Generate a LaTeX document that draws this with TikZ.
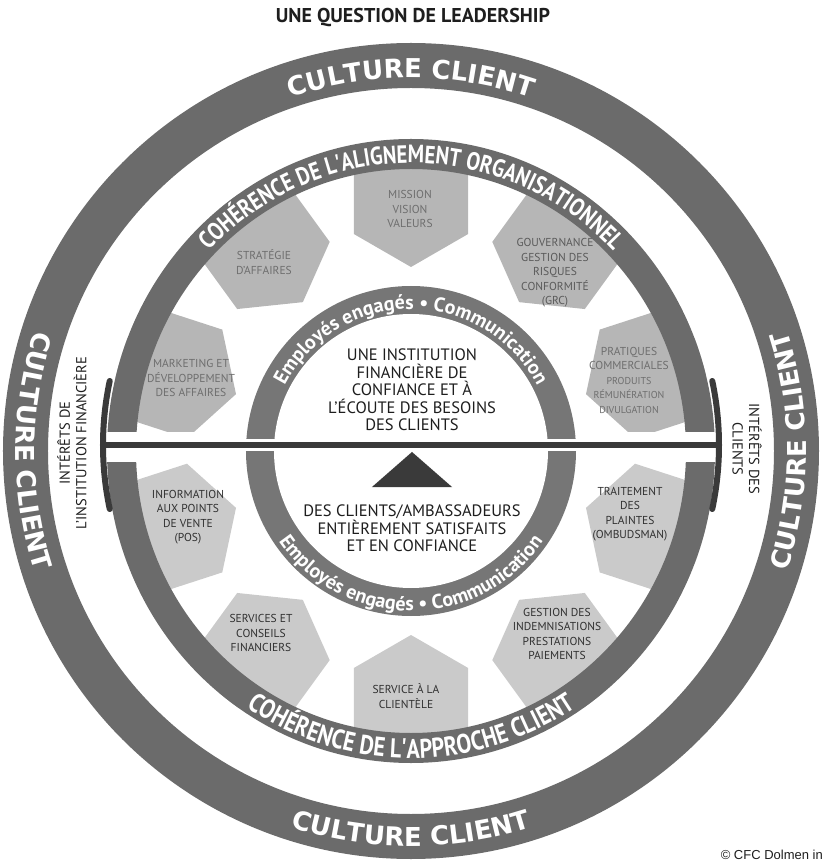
\documentclass[tikz,border=0pt]{standalone}
\usepackage{fontspec}
\setmainfont{PT Sans}
\newfontfamily\heavyfont{DejaVu Sans}
\newfontfamily\condbold{PT Sans}[FakeStretch=0.82]
\newfontfamily\arialfont{Liberation Sans}
\usepackage{xcolor}
\usepackage{tikz}
\usetikzlibrary{shapes.geometric, decorations.text, positioning}
\definecolor{ringgray}{HTML}{6B6B6B}
\definecolor{innergray}{HTML}{767676}
\definecolor{hexup}{HTML}{B6B6B6}
\definecolor{hexlow}{HTML}{CACACA}
\definecolor{hexinkup}{HTML}{6E6E6E}
\definecolor{hexinklow}{HTML}{303030}
\definecolor{beamgray}{HTML}{3A3A3A}
\definecolor{inkdark}{HTML}{1E1E1E}

\begin{document}
\begin{tikzpicture}[x=1pt, y=1pt,
  hexagon/.style={regular polygon, regular polygon sides=6, minimum size=132pt, inner sep=0pt, draw=none},
  hexlabel/.style={align=center, font=\fontsize{11.5}{14.5}\selectfont, inner sep=0pt},
  centretext/.style={align=center, font=\fontsize{16.5}{17.5}\selectfont, text=inkdark, inner sep=0pt},
  sidetext/.style={align=center, font=\fontsize{14.5}{16.5}\selectfont, text=inkdark, inner sep=0pt},
  ringword/.style={decorate, decoration={text along path, text align=center, text color=white, text={#1}}},
]
  \useasboundingbox (-411,-411) rectangle (411,451);
  \node[font=\bfseries\fontsize{20}{24}\selectfont, text=inkdark] (title) at (2,433) {UNE QUESTION DE LEADERSHIP};

  % outer ring
  \fill[ringgray, even odd rule] (0,0) circle[radius=408pt] (0,0) circle[radius=363pt];
  \path[ringword={|\heavyfont\bfseries\fontsize{26}{26}\selectfont|CULTURE CLIENT}]
    (120:373pt) arc[start angle=120, end angle=60, radius=373pt];
  \path[ringword={|\heavyfont\bfseries\fontsize{26}{26}\selectfont|CULTURE CLIENT}]
    (235:395pt) arc[start angle=235, end angle=305, radius=395pt];
  \path[ringword={|\heavyfont\bfseries\fontsize{26}{26}\selectfont|CULTURE CLIENT}]
    (145:395pt) arc[start angle=145, end angle=215, radius=395pt];
  \path[ringword={|\heavyfont\bfseries\fontsize{26}{26}\selectfont|CULTURE CLIENT}]
    (-35:395pt) arc[start angle=-35, end angle=35, radius=395pt];

  % hexagons
  \begin{scope}
    \clip (0,0) ellipse[x radius=304pt, y radius=312pt];
    \node[hexagon, fill=hexup, shape border rotate=90] (hexmission) at (90:250pt) {};
    \node[hexagon, fill=hexup, shape border rotate=126] (hexstrategy) at (126:250pt) {};
    \node[hexagon, fill=hexup, shape border rotate=54] (hexgovern) at (54:250pt) {};
    \node[hexagon, fill=hexup, shape border rotate=18] (hexpractice) at (18:250pt) {};
    \node[hexagon, fill=hexup, shape border rotate=162] (hexmarket) at (162:250pt) {};
    \node[hexagon, fill=hexlow, shape border rotate=198] (hexinfo) at (198:250pt) {};
    \node[hexagon, fill=hexlow, shape border rotate=-18] (hexcomplaint) at (-18:250pt) {};
    \node[hexagon, fill=hexlow, shape border rotate=234] (hexadvice) at (234:250pt) {};
    \node[hexagon, fill=hexlow, shape border rotate=-54] (hexclaims) at (-54:250pt) {};
    \node[hexagon, fill=hexlow, shape border rotate=270] (hexservice) at (270:250pt) {};
  \end{scope}

  \node[hexlabel, text=hexinkup] (mission) at (-1,242) {MISSION\\VISION\\VALEURS};
  \node[hexlabel, text=hexinkup] (strategy) at (-147,189) {STRATÉGIE\\D'AFFAIRES};
  \node[hexlabel, text=hexinklow!80] (govern) at (144,178) {GOUVERNANCE\\GESTION DES\\RISQUES\\CONFORMITÉ\\(GRC)};
  \node[hexlabel, text=hexinkup] (practice) at (218,71)
    {PRATIQUES\\COMMERCIALES\\{\fontsize{10}{13}\selectfont PRODUITS}\\{\fontsize{10}{13}\selectfont RÉMUNÉRATION}\\{\fontsize{10}{13}\selectfont DIVULGATION}};
  \node[hexlabel, text=hexinkup] (market) at (-220,73) {MARKETING ET\\DÉVELOPPEMENT\\DES AFFAIRES};
  \node[hexlabel, text=hexinklow] (info) at (-223,-66) {INFORMATION\\AUX POINTS\\DE VENTE\\(POS)};
  \node[hexlabel, text=hexinklow] (complaint) at (219,-63) {TRAITEMENT\\DES\\PLAINTES\\(OMBUDSMAN)};
  \node[hexlabel, text=hexinklow] (advice) at (-150,-182) {SERVICES ET\\CONSEILS\\FINANCIERS};
  \node[hexlabel, text=hexinklow] (claims) at (146,-183) {GESTION DES\\INDEMNISATIONS\\PRESTATIONS\\PAIEMENTS};
  \node[hexlabel, text=hexinklow] (service) at (-5,-245) {SERVICE À LA\\CLIENTÈLE};

  % middle ring
  \fill[ringgray, even odd rule] (0,0) ellipse[x radius=304pt, y radius=312pt] (0,0) ellipse[x radius=275pt, y radius=282pt];
  \path[ringword={|\condbold\bfseries\fontsize{25}{25}\selectfont|COHÉRENCE DE L'ALIGNEMENT ORGANISATIONNEL}]
    (160:281pt and 288pt) arc[start angle=160, end angle=20, x radius=281pt, y radius=288pt];
  \path[ringword={|\condbold\bfseries\fontsize{27}{27}\selectfont|COHÉRENCE DE L'APPROCHE CLIENT}]
    (200:299pt and 307pt) arc[start angle=200, end angle=340, x radius=299pt, y radius=307pt];

  % gap around the beam
  \fill[white] (-318,-11) rectangle (318,19);

  % inner circle
  \fill[innergray] (0,0) circle[radius=165pt];
  \fill[white] (0,0) circle[radius=137pt];
  \path[ringword={|\bfseries\fontsize{20}{20}\selectfont|Employés engagés • Communication}]
    (175:142pt) arc[start angle=175, end angle=5, radius=142pt];
  \path[ringword={|\bfseries\fontsize{20}{20}\selectfont|Employés engagés • Communication}]
    (185:160pt) arc[start angle=185, end angle=355, radius=160pt];

  \node[centretext] (trust) at (1,61) {UNE INSTITUTION\\FINANCIÈRE DE\\CONFIANCE ET À\\L'ÉCOUTE DES BESOINS\\DES CLIENTS};
  \node[centretext] (ambassadors) at (1,-77.5) {DES CLIENTS/AMBASSADEURS\\ENTIÈREMENT SATISFAITS\\ET EN CONFIANCE};
  \fill[beamgray] (1,-1) -- (-39,-36) -- (41,-36) -- cycle;

  % balance beam
  \coordinate (pivot) at (0,6);
  \coordinate (leftend) at (-308,6);
  \coordinate (rightend) at (308,6);
  \draw[white, line width=12pt] (leftend) -- (rightend);
  \draw[beamgray, line width=6pt] (leftend) -- (rightend);
  \draw[beamgray, line width=6pt, line cap=round] ([shift={(168:308pt)}]pivot) arc[start angle=168, end angle=192, radius=308pt];
  \draw[beamgray, line width=6pt, line cap=round] ([shift={(-12:308pt)}]pivot) arc[start angle=-12, end angle=12, radius=308pt];

  \node[sidetext, rotate=90] (bankside) at (-339,8) {INTÉRÊTS DE\\L'INSTITUTION FINANCIÈRE};
  \node[sidetext, rotate=-90] (clientside) at (336,2) {INTÉRÊTS DES\\CLIENTS};
  \node[anchor=east, font=\arialfont\fontsize{13}{13}\selectfont, text=inkdark, inner sep=0pt] (credit) at (412,-404) {© CFC Dolmen in};
\end{tikzpicture}
\end{document}
